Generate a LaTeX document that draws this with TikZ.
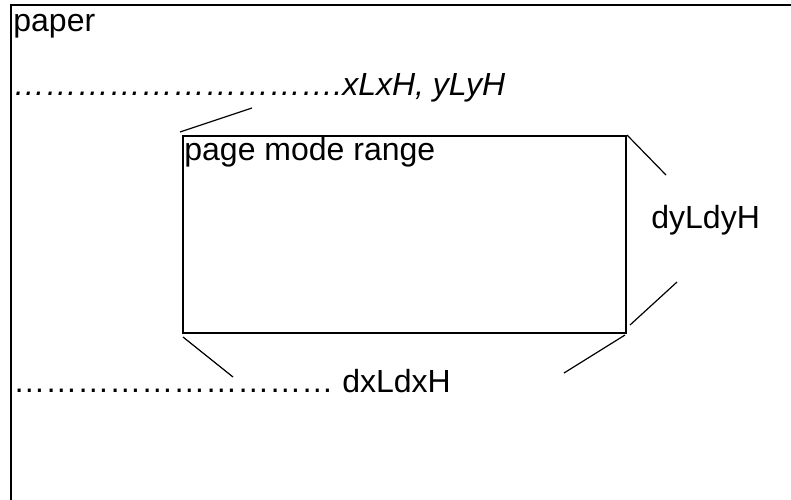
\documentclass[tikz,border=0pt]{standalone}
\usepackage{fontspec}
\setmainfont{Liberation Sans}
\usetikzlibrary{positioning}

\newcommand{\dotrun}{\foreach \n in {1,...,10}{…}}

\begin{document}
\begin{tikzpicture}[
        x=0.5pt, y=-0.5pt,
        txt/.style={
          anchor=base west,
          inner sep=0pt,
          font=\fontsize{16}{19}\selectfont
        },
        frame/.style={draw, line width=1.2pt},
        leader/.style={draw, line width=0.6pt},
        rangeBox/.style={
          rectangle,
          draw,
          line width=1pt,
          anchor=north west,
          minimum width=221.5pt,
          minimum height=98.5pt,
          inner sep=0pt
        }
    ]
    \useasboundingbox (0,0) rectangle (791,499);

    % Paper edges
    \coordinate (paperBL) at (11,520);
    \coordinate (paperTL) at (11,5);
    \coordinate (paperTR) at (810,5);
    \draw[frame] (paperBL) -- (paperTL) -- (paperTR);

    % Define the nodes
    \node[txt] (paper) at (13,31) {paper};
    \node[txt, font=\fontsize{16}{19}\selectfont\itshape] (origin) at (13,95)
      {\dotrun.xLxH, yLyH};
    \node[rangeBox] (range) at (182,135) {};
    \node[txt] (rangeText) at (184,160) {page mode range};
    \node[txt] (height) at (651,228) {dyLdyH};
    \node[txt] (width) at (13,392) {\dotrun{} dxLdxH};

    % Leader lines
    \coordinate (tlEnd) at (252,108);
    \coordinate (trEnd) at (666,175);
    \coordinate (rbEnd) at (677,282);
    \coordinate (blEnd) at (233,377);
    \coordinate (brEnd) at (564,373);
    \draw[leader] ([shift={(-2,-3)}]range.north west) -- (tlEnd);
    \draw[leader] (range.north east) -- (trEnd);
    \draw[leader] ([shift={(3,-9)}]range.south east) -- (rbEnd);
    \draw[leader] ([shift={(1,3)}]range.south west) -- (blEnd);
    \draw[leader] ([shift={(-2,1)}]range.south east) -- (brEnd);

\end{tikzpicture}
\end{document}
